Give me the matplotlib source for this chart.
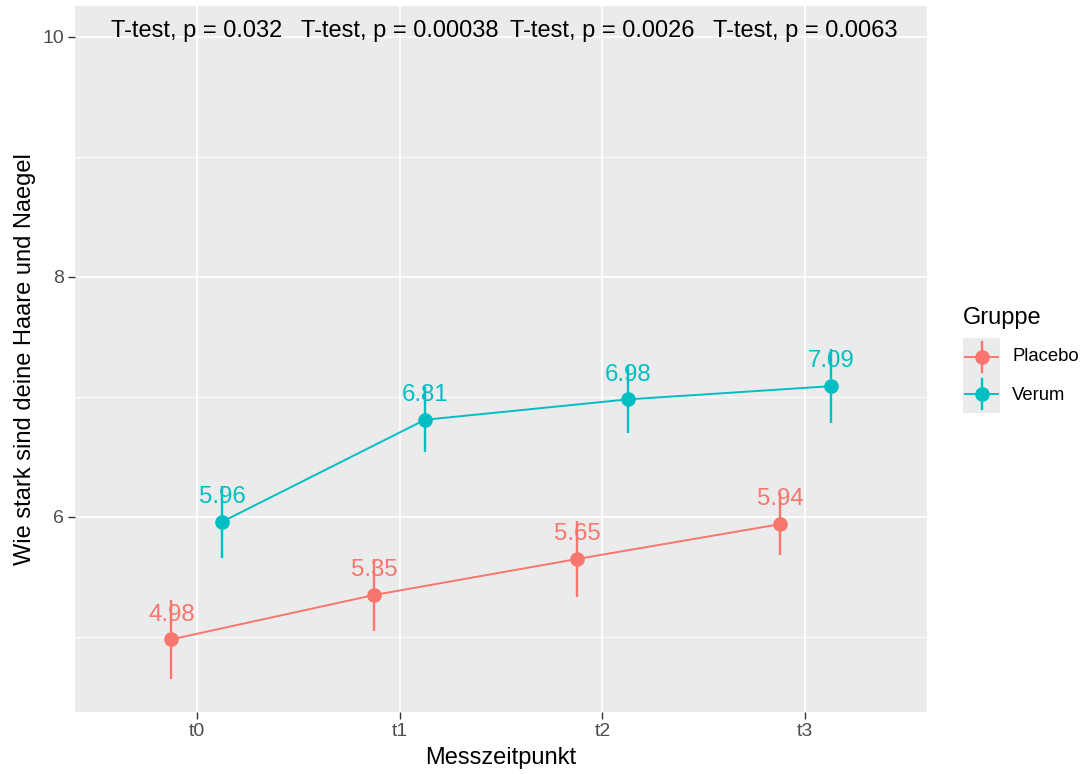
import numpy as np
import matplotlib
matplotlib.use("Agg")
import matplotlib.pyplot as plt
from matplotlib.ticker import MultipleLocator

plt.rcParams['font.family'] = ['Liberation Sans', 'DejaVu Sans']

# data
zeitpunkte = ['t0', 't1', 't2', 't3']
placebo_mean = [4.98, 5.35, 5.65, 5.94]
placebo_se = [0.33, 0.30, 0.32, 0.26]
verum_mean = [5.96, 6.81, 6.98, 7.09]
verum_se = [0.30, 0.27, 0.28, 0.31]
p_values = ['0.032', '0.00038', '0.0026', '0.0063']

col_placebo = '#F8766D'
col_verum = '#00BFC4'
panel_bg = '#EBEBEB'

W, H = 1081, 774
fig = plt.figure(figsize=(W / 100, H / 100), dpi=100)
# panel position in pixels: left 75, right 927, top 6, bottom 712
ax = fig.add_axes([75 / W, 1 - 712 / H, (927 - 75) / W, (712 - 6) / H])
ax.set_facecolor(panel_bg)
for s in ax.spines.values():
    s.set_visible(False)

x = np.arange(len(zeitpunkte))
dodge = 0.125

groups = [
    ('Placebo', placebo_mean, placebo_se, col_placebo, -dodge),
    ('Verum', verum_mean, verum_se, col_verum, dodge),
]
for name, mean, se, col, off in groups:
    xs = x + off
    ax.plot(xs, mean, color=col, lw=1.4, zorder=3)
    ax.errorbar(xs, mean, yerr=se, fmt='o', color=col, ms=9.5, elinewidth=1.7,
                capsize=0, zorder=4)
    for xi, m in zip(xs, mean):
        ax.annotate(f'{m:.2f}', (xi, m), xytext=(0, 13.5), textcoords='offset points',
                    ha='center', va='baseline', color=col, fontsize=17.3, zorder=5)

for xi, p in zip(x, p_values):
    ax.text(xi, 10, f'T-test, p = {p}', ha='center', va='baseline',
            fontsize=17, color='black', zorder=5)

ax.set_xlim(-0.6, 3.6)
ax.set_ylim(4.375, 10.258)
ax.set_xticks(x)
ax.set_xticklabels(zeitpunkte)
ax.yaxis.set_major_locator(MultipleLocator(2))
ax.yaxis.set_minor_locator(MultipleLocator(1))
ax.set_yticks([6, 8, 10])
ax.grid(which='major', color='white', lw=1.3, zorder=0)
ax.grid(which='minor', axis='y', color='white', lw=0.65, zorder=0)
ax.set_axisbelow(True)
ax.tick_params(axis='both', which='major', length=5, width=1, color='#333333',
               labelcolor='#4D4D4D', labelsize=14, pad=3)
ax.tick_params(axis='y', which='minor', length=0)

fig.text(25 / W, 1 - 359 / H, 'Wie stark sind deine Haare und Naegel', rotation=90,
         ha='center', va='center', fontsize=17, color='black')
fig.text(501 / W, 1 - 758 / H, 'Messzeitpunkt', ha='center', va='center',
         fontsize=17, color='black')

# legend drawn by hand, ggplot style
lax = fig.add_axes([963 / W, 1 - 413 / H, 37 / W, 75 / H])
lax.set_facecolor(panel_bg)
lax.set_xlim(0, 1)
lax.set_ylim(0, 2)
lax.set_xticks([])
lax.set_yticks([])
for s in lax.spines.values():
    s.set_visible(False)
for i, (name, mean, se, col, off) in enumerate(groups):
    yc = 1.5 - i
    lax.plot([0.05, 0.95], [yc, yc], color=col, lw=1.4)
    lax.plot([0.5, 0.5], [yc - 0.4, yc + 0.4], color=col, lw=1.7)
    lax.plot([0.5], [yc], 'o', color=col, ms=9.5)
    fig.text(1012 / W, 1 - (357 + 38 * i) / H, name, ha='left', va='center',
             fontsize=13.3, color='black')
fig.text(963 / W, 1 - 318 / H, 'Gruppe', ha='left', va='center', fontsize=17,
         color='black')

fig.savefig('out.png', dpi=100, facecolor='white')
